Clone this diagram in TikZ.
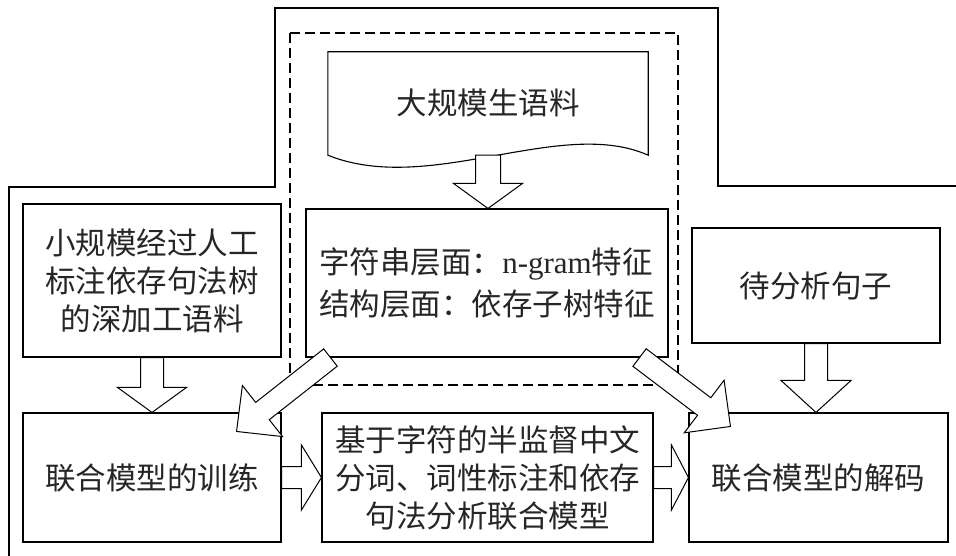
\documentclass[tikz,border=0pt]{standalone}
\usepackage{fontspec}
\setmainfont{Noto Sans CJK SC}
\newfontfamily\latinfont{Liberation Serif}
\usetikzlibrary{calc}

\tikzset{
  box/.style={draw, line width=1.1pt, inner sep=0pt, align=center,
    text=black!85, font=\fontsize{30.5}{38}\selectfont},
  frameline/.style={line width=1.1pt},
  dashbox/.style={line width=1.1pt, dash pattern=on 10pt off 5pt},
  blockarrow/.style={draw, fill=white, line width=1pt, line join=miter}
}
\newcommand\blockarr[5]{%
  \coordinate (ba-s) at (#1);
  \coordinate (ba-t) at (#2);
  \coordinate (ba-h) at ($(ba-t)!#5!(ba-s)$);
  \draw[blockarrow] ($(ba-s)!#3!90:(ba-t)$) -- ($(ba-h)!#3!-90:(ba-s)$)
    -- ($(ba-h)!#4!-90:(ba-s)$) -- (ba-t) -- ($(ba-h)!#4!90:(ba-s)$)
    -- ($(ba-h)!#3!90:(ba-s)$) -- ($(ba-s)!#3!-90:(ba-t)$) -- cycle;
}

\begin{document}
\begin{tikzpicture}[x=1pt,y=-1pt]
\useasboundingbox (0,0) rectangle (956,556);

% outer frame
\coordinate (f1) at (9,556);
\coordinate (f2) at (9,187);
\coordinate (f3) at (275,187);
\coordinate (f4) at (275,8);
\coordinate (f5) at (718,8);
\coordinate (f6) at (718,186);
\coordinate (f7) at (956,186);
\draw[frameline] (f1) -- (f2) -- (f3) -- (f4) -- (f5) -- (f6) -- (f7);

% dashed group
\coordinate (g1) at (290,33);
\coordinate (g2) at (678,385);
\draw[dashbox] (g1) rectangle (g2);

% document shape
\node[inner sep=0pt, minimum width=320pt, minimum height=103pt, text=black!85,
      font=\fontsize{30.5}{38}\selectfont] (doc) at (488,103.5) {\raisebox{3pt}{大规模生语料}};
\draw[line width=1.1pt] (doc.north west) -- (doc.north east) -- (doc.south east)
  .. controls ($(doc.south east)+(-88,-39)$) and ($(doc.south west)+(102,41)$) .. (doc.south west)
  -- cycle;

% boxes
\node[box, minimum width=258pt, minimum height=153pt] (ltop) at (152,280.5)
  {小规模经过人工\\标注依存句法树\\的深加工语料};
\node[box, minimum width=362pt, minimum height=148pt, align=left,
      font=\fontsize{30.5}{42}\selectfont] (feat) at (487,283)
  {字符串层面：{\latinfont\fontsize{31}{42}\selectfont n-gram}特征\\结构层面：依存子树特征};
\node[box, minimum width=248pt, minimum height=115pt] (tofx) at (816,285.5) {待分析句子};
\node[box, minimum width=258pt, minimum height=129pt] (train) at (152,477.5) {联合模型的训练};
\node[box, minimum width=331pt, minimum height=129pt] (mid) at (487.5,477.5)
  {基于字符的半监督中文\\分词、词性标注和依存\\句法分析联合模型};
\node[box, minimum width=259pt, minimum height=129pt] (decode) at (818.5,477.5) {联合模型的解码};

% block arrows
\coordinate (a1t) at (doc.south |- feat.north);
\blockarr{doc.south}{a1t}{12.5pt}{34.5pt}{25pt}
\blockarr{ltop.south}{train.north}{11.5pt}{34.5pt}{25pt}
\coordinate (a3t) at (tofx.south |- decode.north);
\blockarr{tofx.south}{a3t}{11.5pt}{35pt}{32pt}
\blockarr{train.east}{mid.west}{11pt}{32.5pt}{20pt}
\blockarr{mid.east}{decode.west}{11pt}{32.5pt}{17pt}
\coordinate (d1s) at ($(feat.south west)+(25,0)$);
\coordinate (d1t) at ($(train.north east)+(-45,19)$);
\blockarr{d1s}{d1t}{11pt}{32.5pt}{33pt}
\coordinate (d2s) at ($(feat.south east)+(-29,0)$);
\coordinate (d2t) at ($(decode.north west)+(42,14)$);
\blockarr{d2s}{d2t}{11pt}{33pt}{33pt}
\end{tikzpicture}
\end{document}
